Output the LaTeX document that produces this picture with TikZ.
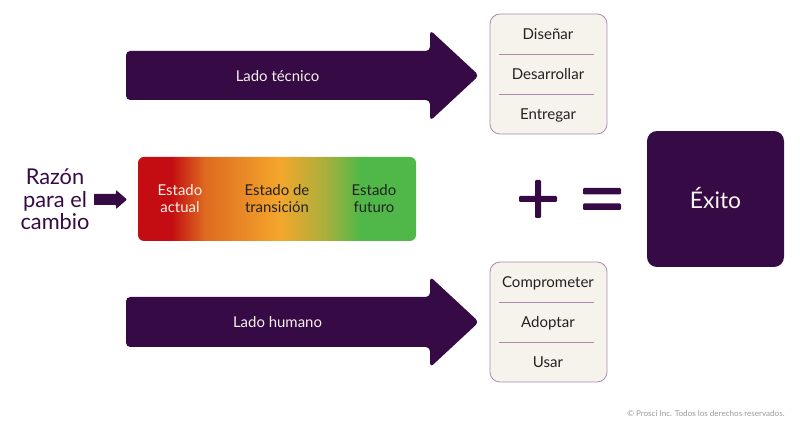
\documentclass[tikz,border=0pt]{standalone}
\usepackage{fontspec}
\setmainfont{Lato}
\usetikzlibrary{positioning}

\definecolor{plum}{HTML}{360A45}
\definecolor{cream}{HTML}{F6F3EC}
\definecolor{lilac}{HTML}{A98BB0}
\definecolor{ink}{HTML}{222222}
\definecolor{estadoRed}{HTML}{C40D12}
\definecolor{estadoMid}{HTML}{DE6A20}
\definecolor{estadoOrange}{HTML}{F4A62C}
\definecolor{estadoOlive}{HTML}{A6B03C}
\definecolor{estadoGreen}{HTML}{50B848}

\pgfdeclarehorizontalshading{cambio}{100bp}{
	color(0bp)=(estadoRed);
	color(31bp)=(estadoRed);
	color(37bp)=(estadoMid);
	color(50.5bp)=(estadoOrange);
	color(59bp)=(estadoOlive);
	color(65bp)=(estadoGreen);
	color(100bp)=(estadoGreen)}

\tikzset{
	bigarrow/.style={fill=plum, rounded corners=2.4pt},
	lbl/.style={font=\fontsize{8.5}{10}\selectfont, text=cream, align=center},
	item/.style={font=\fontsize{8.55}{10}\selectfont, text=ink, text height=6.2pt, text depth=1.9pt},
	estado/.style={font=\fontsize{8.5}{9.7}\selectfont, align=center},
	stack/.style={draw=lilac, line width=0.45pt, fill=cream, rounded corners=0.2cm},
	sep/.style={draw=lilac, line width=0.45pt},
	symb/.style={fill=plum, rounded corners=0.6pt}
}

\begin{document}
\begin{tikzpicture}[x=0.02cm, y=-0.02cm, node distance = 0.8cm]
	\useasboundingbox (0,0) rectangle (800,431);

	% upper and lower arrows
	\fill[bigarrow] (126,51) -- (430,51) -- (430,30) -- (479,75.5) -- (430,121) -- (430,100) -- (126,100) -- cycle;
	\fill[bigarrow] (126,297) -- (430,297) -- (430,276.5) -- (479,322) -- (430,367.5) -- (430,347) -- (126,347) -- cycle;
	\node (tecnico) [lbl] at (277.5,76) {Lado técnico};
	\node (humano) [lbl] at (277.5,322) {Lado humano};

	% stacks
	\path[stack] (490,14) rectangle (607,134);
	\node (disenar) [item] at (548,35.5) {Diseñar};
	\node (desarrollar) [item, below of=disenar] {Desarrollar};
	\node (entregar) [item, below of=desarrollar] {Entregar};
	\draw[sep] (499,54) -- (594,54);
	\draw[sep] (499,94) -- (594,94);

	\path[stack] (490,262) rectangle (607,382);
	\node (comprometer) [item] at (548,283.5) {Comprometer};
	\node (adoptar) [item, below of=comprometer] {Adoptar};
	\node (usar) [item, below of=adoptar] {Usar};
	\draw[sep] (499,302) -- (594,302);
	\draw[sep] (499,342) -- (594,342);

	% reason and states
	\node (razon) [font=\fontsize{12.4}{12.8}\selectfont, text=plum, align=center] at (55,199.5) {Razón\\para el\\cambio};
	\fill[plum, rounded corners=0.4pt] (94,194) -- (116,194) -- (116,190) -- (127,199.5) -- (116,209) -- (116,205) -- (94,205) -- cycle;

	\path[shading=cambio, rounded corners=0.12cm] (138,157) rectangle (416,241);
	\node (actual) [estado, text=cream] at (180,199) {Estado\\actual};
	\node (transicion) [estado, text=ink] at (277,199) {Estado de\\transición};
	\node (futuro) [estado, text=ink] at (374,199) {Estado\\futuro};

	% plus and equals
	\fill[symb] (535,180) rectangle (541,218);
	\fill[symb] (519,196) rectangle (557,202);
	\fill[symb] (583,188) rectangle (621,194.5);
	\fill[symb] (583,203.5) rectangle (621,210);

	\node (exito) [fill=plum, rounded corners=0.2cm, minimum width=2.74cm, minimum height=2.72cm, text=cream, text depth=1pt, font=\fontsize{13}{16}\selectfont] at (715.5,199) {Éxito};

	\node (derechos) [anchor=east, inner sep=0pt, text=black!40, font=\fontsize{4.6}{6}\selectfont] at (785,413.5) {© Prosci Inc. Todos los derechos reservados.};
\end{tikzpicture}
\end{document}
